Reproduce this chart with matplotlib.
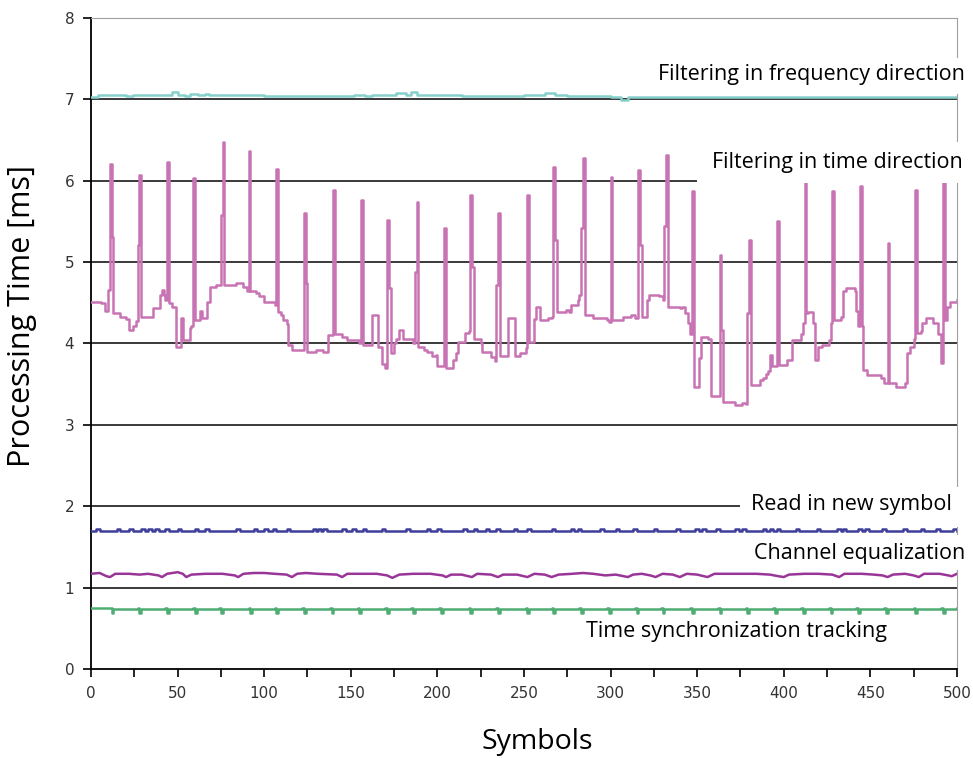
import matplotlib.pyplot as plt
from matplotlib.patches import Rectangle
from matplotlib.ticker import MultipleLocator

# Filtering in time direction (magenta) - vertices
time_x = [0, 6, 8, 10, 11, 12, 13, 17, 20, 22, 24, 26, 27, 28, 29, 35, 36, 40, 41, 42,
          43, 44, 45, 47, 49, 51, 52, 53, 56, 57, 58, 59, 60, 62, 63, 64, 66, 67, 69, 72,
          75, 76, 77, 80, 84, 88, 90, 91, 92, 95, 97, 100, 104, 106, 107, 108, 110, 111, 113, 114,
          116, 122, 123, 124, 125, 130, 134, 136, 137, 139, 140, 141, 144, 145, 148, 154, 155, 156, 157, 161,
          162, 165, 166, 168, 170, 171, 172, 173, 175, 176, 178, 180, 184, 186, 187, 188, 189, 191, 192, 194,
          196, 197, 199, 200, 203, 204, 205, 208, 209, 211, 212, 215, 216, 218, 219, 220, 221, 224, 225, 226,
          229, 231, 233, 234, 235, 236, 240, 241, 244, 245, 247, 248, 251, 252, 253, 255, 256, 257, 258, 259,
          262, 264, 266, 267, 268, 269, 272, 274, 276, 277, 280, 281, 282, 283, 284, 285, 289, 290, 296, 298,
          299, 300, 301, 306, 307, 312, 314, 315, 316, 317, 318, 320, 321, 322, 327, 328, 330, 331, 332, 333,
          337, 340, 341, 343, 345, 346, 347, 348, 350, 351, 352, 355, 356, 358, 362, 363, 364, 365, 370, 372,
          376, 378, 379, 380, 381, 384, 386, 388, 390, 391, 392, 393, 395, 396, 397, 401, 402, 404, 405, 409,
          410, 411, 412, 413, 414, 416, 417, 418, 419, 420, 422, 425, 426, 427, 428, 429, 432, 433, 434, 435,
          436, 440, 441, 442, 443, 444, 445, 446, 448, 454, 456, 458, 459, 460, 461, 464, 465, 469, 470, 471,
          473, 475, 476, 477, 479, 480, 482, 484, 486, 489, 491, 492, 493, 494, 496, 500]
time_y = [4.51, 4.50, 4.40, 4.66, 6.21, 5.31, 4.37, 4.33, 4.30, 4.17, 4.22, 4.28, 5.21, 6.07, 4.33, 4.33, 4.43, 4.60, 4.66, 4.60,
          4.53, 6.23, 4.50, 4.45, 3.96, 3.96, 4.31, 4.04, 4.04, 4.19, 4.22, 6.03, 4.29, 4.29, 4.40, 4.31, 4.31, 4.51, 4.70, 4.72,
          5.58, 6.48, 4.72, 4.72, 4.74, 4.70, 4.64, 6.36, 4.64, 4.62, 4.58, 4.51, 4.51, 4.47, 6.15, 4.39, 4.35, 4.29, 4.24, 3.98,
          3.92, 3.92, 5.60, 4.74, 3.90, 3.92, 3.90, 3.90, 4.10, 4.10, 5.89, 4.12, 4.12, 4.08, 4.04, 4.04, 4.00, 5.76, 3.98, 3.98,
          4.35, 4.35, 3.96, 3.75, 3.70, 5.52, 4.68, 3.88, 4.00, 4.06, 4.17, 4.06, 4.06, 4.00, 4.88, 5.74, 3.96, 3.96, 3.92, 3.89,
          3.89, 3.85, 3.86, 3.72, 3.72, 5.42, 3.70, 3.70, 3.80, 3.88, 4.02, 4.02, 4.13, 4.15, 5.83, 4.94, 4.06, 4.06, 4.00, 3.89,
          3.89, 3.83, 3.78, 4.72, 5.60, 3.85, 3.85, 4.31, 4.31, 3.85, 3.85, 3.88, 3.95, 5.83, 4.02, 4.02, 4.30, 4.45, 4.45, 4.29,
          4.29, 4.31, 4.33, 6.17, 5.27, 4.39, 4.39, 4.41, 4.39, 4.47, 4.47, 4.53, 4.60, 5.42, 6.28, 4.35, 4.35, 4.31, 4.31, 4.29,
          4.27, 6.05, 4.29, 4.29, 4.33, 4.35, 4.31, 4.31, 6.13, 5.21, 4.33, 4.33, 4.53, 4.60, 4.60, 4.58, 4.53, 5.44, 6.32, 4.45,
          4.45, 4.43, 4.45, 4.37, 4.25, 4.12, 5.87, 3.47, 3.47, 3.82, 4.08, 4.08, 4.06, 3.35, 3.35, 5.09, 4.17, 3.28, 3.28, 3.25,
          3.27, 3.26, 4.37, 5.27, 3.49, 3.49, 3.55, 3.58, 3.63, 3.66, 3.86, 3.72, 3.72, 5.50, 3.74, 3.74, 3.80, 3.80, 4.04, 4.04,
          4.12, 4.25, 6.10, 4.37, 4.39, 4.39, 4.25, 3.80, 3.80, 3.96, 3.98, 3.98, 4.04, 4.25, 5.87, 4.29, 4.29, 4.33, 4.64, 4.64,
          4.68, 4.68, 4.64, 4.40, 4.21, 5.93, 4.21, 3.67, 3.61, 3.61, 3.57, 3.51, 3.51, 5.23, 3.51, 3.51, 3.47, 3.47, 3.51, 3.88,
          3.96, 4.06, 5.89, 4.13, 4.15, 4.25, 4.31, 4.31, 4.25, 4.12, 3.76, 6.10, 4.29, 4.45, 4.51, 4.53]

# Filtering in frequency direction (cyan)
freq_x = [0, 4, 18, 20, 24, 44, 47, 50, 54, 57, 62, 66, 68, 90, 100, 148, 152, 158, 162, 170,
          176, 180, 182, 185, 188, 212, 214, 250, 262, 268, 275, 300, 306, 310, 500]
freq_y = [7.03, 7.05, 7.05, 7.04, 7.05, 7.05, 7.09, 7.05, 7.04, 7.06, 7.05, 7.07, 7.05, 7.05, 7.04, 7.04, 7.05, 7.04, 7.05, 7.05,
          7.08, 7.08, 7.05, 7.09, 7.05, 7.05, 7.04, 7.05, 7.08, 7.05, 7.04, 7.03, 6.99, 7.03, 7.03]

# Read in new symbol (blue): base level and positions of the small upward steps
read_base = 1.70
read_step = 1.72
read_blips = [3, 15, 22, 29, 33, 37, 43, 50, 60, 66, 84, 94, 100, 105, 113, 128, 131, 134, 145, 151,
              157, 168, 182, 194, 200, 215, 221, 228, 234, 244, 252, 266, 277, 281, 294, 303, 313, 325, 338, 349,
              353, 361, 372, 376, 388, 392, 396, 407, 419, 431, 434, 443, 447, 457, 469, 479, 488, 498]

# Channel equalization (purple)
chan_x = [0, 5, 9, 11, 14, 22, 28, 33, 39, 41, 44, 50, 53, 55, 58, 66, 76, 83, 85, 88,
          94, 100, 106, 113, 116, 119, 124, 131, 142, 145, 148, 158, 165, 171, 174, 178, 186, 196, 203, 205,
          208, 214, 218, 220, 223, 231, 235, 238, 246, 250, 252, 256, 262, 266, 270, 278, 284, 290, 297, 303,
          310, 313, 318, 323, 326, 330, 336, 340, 344, 350, 356, 360, 368, 376, 384, 392, 397, 400, 403, 412,
          420, 428, 432, 435, 445, 452, 457, 460, 463, 470, 475, 478, 481, 490, 495, 497, 500]
chan_y = [1.17, 1.18, 1.14, 1.13, 1.17, 1.17, 1.16, 1.17, 1.15, 1.13, 1.17, 1.19, 1.17, 1.13, 1.16, 1.17, 1.17, 1.15, 1.13, 1.17,
          1.18, 1.18, 1.17, 1.16, 1.13, 1.17, 1.18, 1.17, 1.16, 1.13, 1.17, 1.17, 1.17, 1.15, 1.12, 1.16, 1.17, 1.17, 1.15, 1.13,
          1.16, 1.16, 1.14, 1.13, 1.17, 1.16, 1.13, 1.16, 1.16, 1.14, 1.13, 1.17, 1.16, 1.13, 1.16, 1.17, 1.18, 1.17, 1.15, 1.16,
          1.13, 1.16, 1.17, 1.15, 1.13, 1.17, 1.16, 1.13, 1.17, 1.16, 1.13, 1.17, 1.17, 1.17, 1.17, 1.16, 1.14, 1.13, 1.16, 1.17,
          1.17, 1.16, 1.13, 1.17, 1.17, 1.16, 1.15, 1.13, 1.16, 1.17, 1.15, 1.13, 1.17, 1.17, 1.15, 1.14, 1.17]

# Time synchronization tracking (green): base level and dip positions
sync_base = 0.745
sync_dip = 0.69
sync_dips = [12, 28, 44, 60, 75, 92, 107, 123, 139, 155, 171, 186, 202, 219, 235, 252, 267, 283, 299, 315,
             330, 347, 363, 379, 395, 411, 427, 443, 459, 476, 492]

# build step paths for the two event-based series
read_x, read_y = [0], [read_base]
for b in read_blips:
    read_x += [b, b + 2]
    read_y += [read_step, read_base]
read_x.append(500)
read_y.append(read_base)

sync_x, sync_y = [0], [sync_base]
for d in sync_dips:
    sync_x += [d - 1, d, d + 1]
    sync_y += [sync_base + 0.005, sync_dip, sync_base - 0.01]
sync_x.append(500)
sync_y.append(sync_base)

fig = plt.figure(figsize=(9.73, 7.58), dpi=100)
ax = fig.add_axes([0.0935, 0.1174, 0.89, 0.8589])

for v in range(1, 8):
    ax.axhline(v, color='#2a2a2a', lw=1.3, zorder=1)

ax.plot(freq_x, freq_y, color='#86d0cc', lw=1.8, drawstyle='steps-post', zorder=3)
ax.plot(time_x, time_y, color='#c873b3', lw=1.8, drawstyle='steps-post', zorder=3)
ax.plot(read_x, read_y, color='#3d3d9a', lw=1.8, drawstyle='steps-post', zorder=3)
ax.plot(chan_x, chan_y, color='#9a3598', lw=1.8, zorder=3)
ax.plot(sync_x, sync_y, color='#4fac72', lw=1.8, drawstyle='steps-post', zorder=3)

# series labels sit on white boxes that hide the grid lines behind them
labels = [
    ('Filtering in frequency direction', 504.6, 7.30, 'right', (322, 7.066, 190, 0.44)),
    ('Filtering in time direction', 503.5, 6.22, 'right', (350, 5.97, 160, 0.50)),
    ('Read in new symbol', 497, 2.02, 'right', (374.5, 1.75, 135, 0.49)),
    ('Channel equalization', 504.6, 1.425, 'right', (376, 1.22, 135, 0.43)),
    ('Time synchronization tracking', 285.8, 0.455, 'left', (278, 0.26, 192, 0.39)),
]
for text, tx, ty, ha, (bx, by, bw, bh) in labels:
    ax.add_patch(Rectangle((bx, by), bw, bh, facecolor='white', edgecolor='none',
                           zorder=5, clip_on=False))
    ax.text(tx, ty, text, ha=ha, va='center', fontsize=15.5, family='Open Sans',
            color='black', zorder=6, clip_on=False)

ax.set_xlim(0, 500)
ax.set_ylim(0, 8)
ax.xaxis.set_major_locator(MultipleLocator(50))
ax.xaxis.set_minor_locator(MultipleLocator(25))
ax.yaxis.set_major_locator(MultipleLocator(1))
ax.tick_params(which='both', direction='out', length=6, width=1.2, colors='black',
               labelcolor='#333333', labelsize=11, pad=6)

ax.spines['left'].set_linewidth(1.3)
ax.spines['bottom'].set_linewidth(1.3)
ax.spines['top'].set_color('#a0a0a0')
ax.spines['right'].set_color('#a0a0a0')

ax.set_xlabel('Symbols', fontsize=20.5, family='Open Sans')
ax.set_ylabel('Processing Time [ms]', fontsize=22, family='Open Sans')
ax.xaxis.set_label_coords(0.515, -0.09)
ax.yaxis.set_label_coords(-0.062, 0.542)

fig.savefig('out.png', dpi=100)
